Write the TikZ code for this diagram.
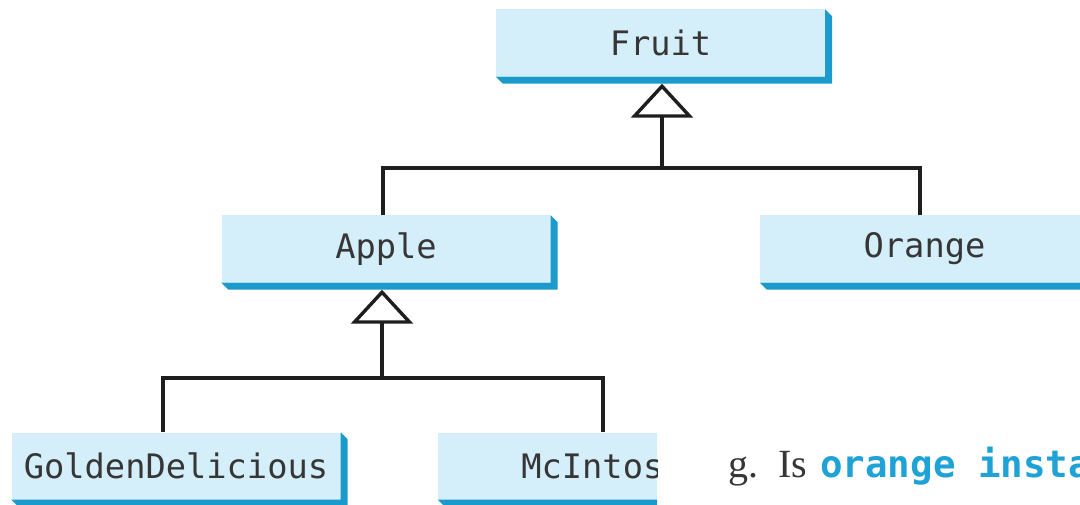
\documentclass[tikz,border=0pt]{standalone}
\usepackage{fontspec}
\setmainfont{Liberation Serif}
\newfontfamily\classfont{DejaVu Sans Mono}
\newfontfamily\codefont{DejaVu Sans Mono}
\usetikzlibrary{arrows.meta}

\definecolor{boxfill}{HTML}{D5EFFA}
\definecolor{boxshadow}{HTML}{1A9BCB}
\definecolor{classtext}{HTML}{363636}
\definecolor{codecyan}{HTML}{1FA2D5}
\definecolor{linegray}{HTML}{1E1E1E}

\tikzset{
  classbox/.style={
    rectangle, fill=boxfill, inner sep=0pt,
    minimum width=329pt, minimum height=67pt,
    font=\classfont\fontsize{33.7}{36}\selectfont, text=classtext
  },
  conn/.style={draw=linegray, line width=3.8pt},
  inherit/.style={-{Triangle[open, length=34pt, width=62pt, line width=3.4pt]}}
}

% bevelled edge along the right and bottom of a class box
\newcommand\boxedge[1]{%
  \fill[boxshadow] (#1.north east) -- ++(7,7)
    -- ([shift={(7,7)}]#1.south east) -- ([shift={(7,7)}]#1.south west)
    -- (#1.south west) -- (#1.south east) -- cycle;}

\begin{document}
\begin{tikzpicture}[x=1pt, y=-1pt]
  \useasboundingbox (0,0) rectangle (1080,505);
  \clip (0,0) rectangle (1080,505);

  % class boxes
  \node[classbox] (fruit)  at (660.5, 43)  {Fruit};
  \node[classbox] (apple)  at (386, 249)   {Apple};
  \node[classbox] (orange) at (924.5, 249) {Orange};
  \node[classbox] (golden) at (176, 466)   {GoldenDelicious};
  \foreach \n in {fruit, apple, orange, golden} {\boxedge{\n}}
  \begin{scope}
    \clip (0,0) rectangle (657,505);
    \node[classbox] (mcintosh) at (602.5, 466) {McIntosh};
    \boxedge{mcintosh}
  \end{scope}

  % inheritance: Apple and Orange extend Fruit
  \coordinate (fruitTip) at ([xshift=1.5pt, yshift=-7pt]fruit.south);
  \coordinate (fruitBus) at (fruitTip |- 0,168);
  \draw[conn, inherit] ([xshift=-3pt]apple.north) |- (fruitBus) -- (fruitTip);
  \draw[conn] ([xshift=-4.5pt]orange.north) |- (fruitBus);

  % inheritance: GoldenDelicious and McIntosh extend Apple
  \coordinate (appleTip) at ([xshift=-4pt, yshift=-7pt]apple.south);
  \coordinate (appleBus) at (appleTip |- 0,378);
  \draw[conn, inherit] ([xshift=-13pt]golden.north) |- (appleBus) -- (appleTip);
  \draw[conn] ([xshift=0.5pt]mcintosh.north) |- (appleBus);

  % question text beside the diagram
  \node[anchor=base west, inner sep=0pt, text=classtext] (question) at (728, 477)
    {\fontsize{40}{44}\selectfont\makebox[50pt][l]{g.}\makebox[42pt][l]{Is}%
     {\codefont\bfseries\fontsize{37.5}{40}\selectfont\color{codecyan}orange insta}};
\end{tikzpicture}
\end{document}
